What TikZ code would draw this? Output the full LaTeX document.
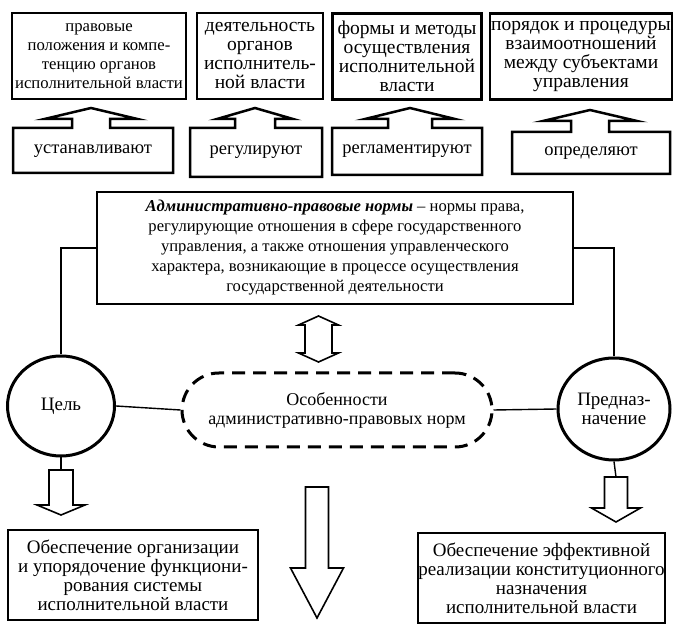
\documentclass[tikz,border=0pt]{standalone}
\usepackage{fontspec}
\setmainfont{Liberation Serif}
\usetikzlibrary{shapes.geometric}
\newcommand\upcallout[9]{% L R T B C s h Yb Yt
  \draw[callout] (#1,#3) -- ({#5-#6},#3) -- ({#5-#6},#8) -- ({#5-#7},#8) -- (#5,#9)
    -- ({#5+#7},#8) -- ({#5+#6},#8) -- ({#5+#6},#3) -- (#2,#3) -- (#2,#4) -- (#1,#4) -- cycle;}
\newcommand\blockdown[6]{% C T s h Yb Tip
  \draw[blockarr] ({#1-#3},#2) -- ({#1-#3},#5) -- ({#1-#4},#5) -- (#1,#6)
    -- ({#1+#4},#5) -- ({#1+#3},#5) -- ({#1+#3},#2) -- cycle;}
\begin{document}
\begin{tikzpicture}[x=1pt,y=-1pt,
  box/.style={draw,line width=2.8pt,inner sep=0pt,align=center},
  topbox/.style={box,minimum height=86pt,font=\fontsize{19.5}{19}\selectfont},
  botbox/.style={box,minimum height=90pt,font=\fontsize{19}{19}\selectfont},
  lbl/.style={inner sep=0pt,align=center,font=\fontsize{18.5}{20}\selectfont},
  callout/.style={line width=2.5pt,line join=miter},
  blockarr/.style={line width=1.6pt,line join=miter},
  conn/.style={line width=1.4pt},
  circ/.style={draw,ellipse,line width=3pt,inner sep=0pt,align=center,font=\fontsize{19}{19}\selectfont},
  feat/.style={draw,line width=3pt,dash pattern=on 13pt off 8pt,rounded corners=37pt,
    minimum width=310pt,minimum height=74pt,inner sep=0pt,align=center,font=\fontsize{18}{19}\selectfont}
]
\useasboundingbox (0,0) rectangle (681,628);
% top boxes
\node[topbox,minimum width=174pt,font=\fontsize{16.7}{19}\selectfont] (t1) at (99,56) {правовые\\положения и компе-\\тенцию органов\\исполнительной власти};
\node[topbox,minimum width=126pt] (t2) at (260,56) {деятельность\\органов\\исполнитель-\\ной власти};
\node[topbox,minimum width=149pt] (t3) at (407,56.5) {формы и методы\\осуществления\\исполнительной\\власти};
\node[topbox,minimum width=182pt] (t4) at (581,56.5) {порядок и процедуры\\взаимоотношений\\между субъектами\\управления};
% callouts
\upcallout{13}{173}{128}{173}{91}{19}{46.5}{119}{108}
\node[lbl] (l1) at (93,151) {устанавливают};
\upcallout{190}{322}{128}{177}{255}{20}{38}{119}{108}
\node[lbl] (l2) at (256,152) {регулируют};
\upcallout{332}{482}{128}{175}{410}{22}{45}{119}{108}
\node[lbl] (l3) at (407,151) {регламентируют};
\upcallout{512}{670}{132}{174}{590}{19}{47}{121}{110}
\node[lbl] (l4) at (591,153) {определяют};
% definition box
\node[box,minimum width=476pt,minimum height=112pt,font=\fontsize{16.6}{20}\selectfont] (def) at (335,248)
  {\textbf{\textit{Административно-правовые нормы}} -- нормы права,\\
   регулирующие отношения в сфере государственного\\
   управления, а также отношения управленческого\\
   характера, возникающие в процессе осуществления\\
   государственной деятельности};
% double arrow
\draw[blockarr] (318.5,316) -- (338.5,325) -- (332,325) -- (332,353) -- (338.5,353) -- (318.5,362)
  -- (298.5,353) -- (305,353) -- (305,325) -- (298.5,325) -- cycle;
% circles and features
\node[circ,minimum width=107pt,minimum height=100pt] (goal) at (61,406) {Цель};
\node[circ,minimum width=112pt,minimum height=102pt] (purp) at (614,409) {Предназ-\\начение};
\node[feat] (feat) at (337,410) {Особенности\\административно-правовых норм};
\draw[conn] (def.west) -| (goal.north);
\draw[conn] (def.east) -| (purp.north);
\draw[conn] (goal.east) -- (feat.west);
\draw[conn] (feat.east) -- (purp.west);
% down arrows
\coordinate (ga) at (61,470);
\coordinate (pa) at (616,477);
\draw[conn] (goal.south) -- (ga);
\draw[conn] (purp.south) -- (pa);
\blockdown{61}{470}{12}{24}{505}{515}
\blockdown{616}{477}{11.5}{24.5}{508}{522}
\blockdown{317}{487}{11.5}{26.5}{568}{618}
% bottom boxes
\node[botbox,minimum width=250pt] (b1) at (133,575) {Обеспечение организации\\и упорядочение функциони-\\рования системы\\исполнительной власти};
\node[botbox,minimum width=247pt] (b2) at (541.5,578) {Обеспечение эффективной\\реализации конституционного\\назначения\\исполнительной власти};
\end{tikzpicture}
\end{document}
